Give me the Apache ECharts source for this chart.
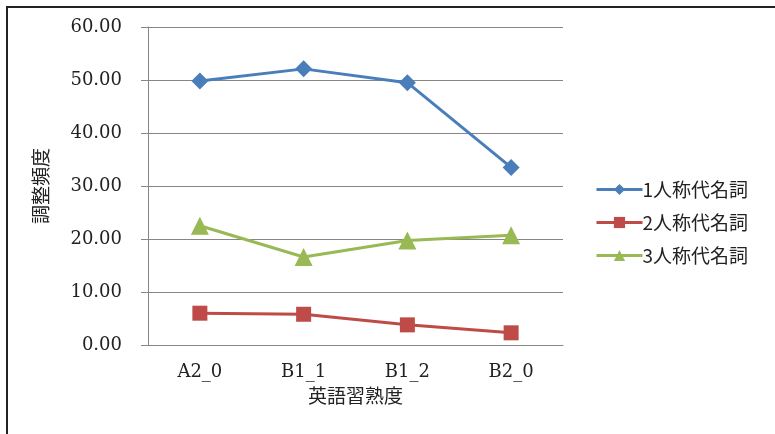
<!DOCTYPE html>
<html>
<head>
<meta charset="utf-8">
<script src="https://cdn.jsdelivr.net/npm/echarts@6/dist/echarts.min.js"></script>
<style>
html,body{margin:0;padding:0;background:#fff;}
#c{width:775px;height:434px;}
</style>
</head>
<body>
<div id="c"></div>
<script>
var categories = ['A2_0', 'B1_1', 'B1_2', 'B2_0'];
var seriesNames = ['1人称代名詞', '2人称代名詞', '3人称代名詞'];
var first = [49.8, 52.1, 49.5, 33.5];
var second = [6.0, 5.8, 3.8, 2.3];
var third = [22.5, 16.6, 19.7, 20.7];
var yTicks = { min: 0, max: 60, interval: 10 };

var numFont = 'DejaVu Serif';
var cjkFont = '"Noto Sans CJK JP"';
var chart = echarts.init(document.getElementById('c'), null, { renderer: 'canvas' });
var colors = ['#4A7EBB', '#BE4B48', '#98B954'];
var symbols = ['diamond', 'rect', 'triangle'];
var sizes = [17, 15, 18];
var data = [first, second, third];

chart.setOption({
  animation: false,
  backgroundColor: '#fff',
  grid: { left: 148, right: 212, top: 27, bottom: 89, containLabel: false },
  legend: {
    orient: 'vertical',
    left: 590,
    top: 175,
    itemWidth: 46,
    itemHeight: 14,
    itemGap: 14,
    lineStyle: { width: 3 },
    textStyle: { fontFamily: cjkFont, fontSize: 19, color: '#222', padding: [0, 0, 0, -5] },
    data: seriesNames
  },
  xAxis: {
    type: 'category',
    data: categories,
    boundaryGap: true,
    name: '英語習熟度',
    nameLocation: 'middle',
    nameGap: 37,
    nameTextStyle: { fontFamily: cjkFont, fontSize: 19, color: '#222' },
    axisLine: { lineStyle: { color: '#868686', width: 1 } },
    axisTick: { show: false },
    axisLabel: { fontFamily: numFont, fontSize: 18, color: '#222', margin: 18 }
  },
  yAxis: {
    type: 'value',
    min: yTicks.min,
    max: yTicks.max,
    interval: yTicks.interval,
    name: '調整頻度',
    nameLocation: 'middle',
    nameRotate: 90,
    nameGap: 98,
    nameTextStyle: { fontFamily: cjkFont, fontSize: 19, color: '#222' },
    axisLine: { show: true, lineStyle: { color: '#868686', width: 1 } },
    axisTick: { show: true, length: 7, lineStyle: { color: '#868686' } },
    splitLine: { show: true, lineStyle: { color: '#868686', width: 1 } },
    axisLabel: {
      fontFamily: numFont, fontSize: 18, color: '#222', margin: 26,
      formatter: function (v) { return v.toFixed(2); }
    }
  },
  series: seriesNames.map(function (n, i) {
    return {
      name: n,
      type: 'line',
      data: data[i],
      symbol: symbols[i],
      symbolSize: sizes[i],
      showAllSymbol: true,
      lineStyle: { color: colors[i], width: 3 },
      itemStyle: { color: colors[i] }
    };
  }),
  graphic: [
    { type: 'rect', shape: { x: 6, y: 6, width: 769, height: 2 }, style: { fill: '#222' }, silent: true },
    { type: 'rect', shape: { x: 6, y: 6, width: 2, height: 428 }, style: { fill: '#222' }, silent: true }
  ]
});
</script>
</body>
</html>
